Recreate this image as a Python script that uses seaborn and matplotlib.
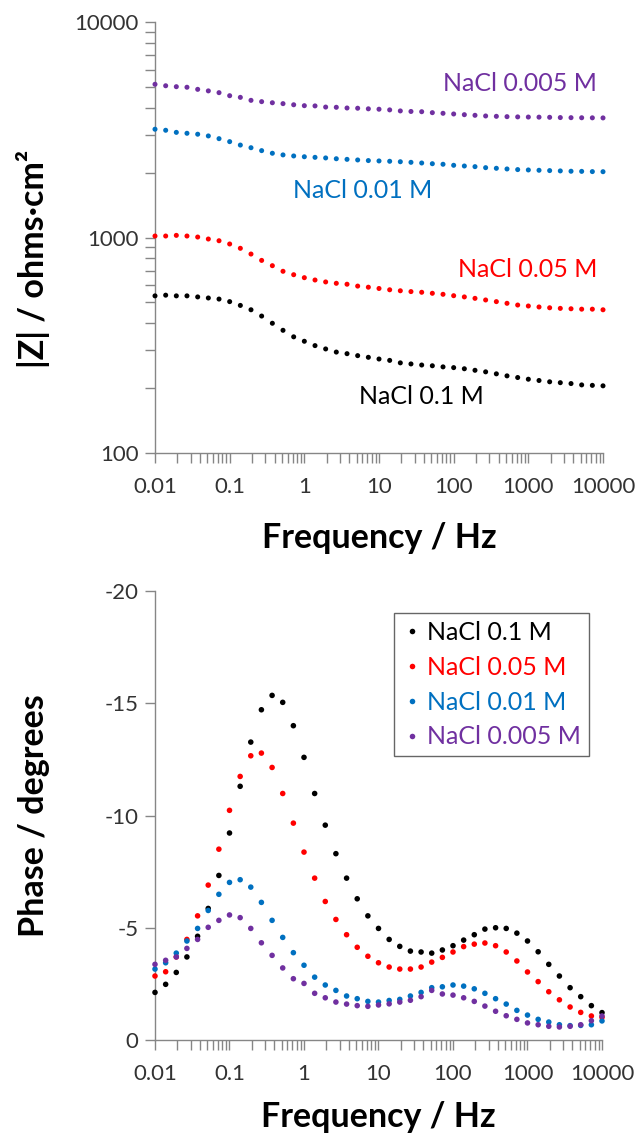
import numpy as np
import pandas as pd
import matplotlib
matplotlib.use("Agg")
import matplotlib.pyplot as plt
import seaborn as sns
from matplotlib.ticker import FixedLocator, FuncFormatter, NullFormatter, LogLocator

# ---------------- data ----------------
series = ["NaCl 0.1 M", "NaCl 0.05 M", "NaCl 0.01 M", "NaCl 0.005 M"]
colors = ["#000000", "#FF0000", "#0070C0", "#7030A0"]

freq = [0.01, 0.0139, 0.0193, 0.0268, 0.0373, 0.0518, 0.072,
        0.1, 0.139, 0.193, 0.268, 0.373, 0.518, 0.72,
        1, 1.39, 1.93, 2.68, 3.73, 5.18, 7.2,
        10, 13.9, 19.3, 26.8, 37.3, 51.8, 72,
        100, 139, 193, 268, 373, 518, 720,
        1000, 1390, 1930, 2680, 3730, 5180, 7200,
        10000]

z_01 = [536, 540, 536, 536, 530, 524, 518, 504, 484, 462, 432, 400, 371, 346, 330, 315, 304, 294, 289, 283, 278,
        273, 269, 262, 259, 256, 254, 251, 249, 246, 242, 238, 233, 228, 224, 220, 217, 214, 212, 210, 207, 206, 205]
z_005 = [1016, 1016, 1023, 1016, 1005, 984, 966, 933, 891, 838, 783, 740, 697, 672, 651, 635, 622, 613, 607, 595, 588,
         580, 572, 566, 561, 557, 551, 545, 537, 530, 522, 513, 504, 495, 486, 481, 476, 472, 469, 467, 465, 465, 462]
z_001 = [3180, 3145, 3075, 3045, 3015, 2960, 2875, 2785, 2685, 2610, 2530, 2460, 2417, 2390, 2370, 2355, 2340, 2320, 2305, 2290, 2275,
         2266, 2258, 2247, 2233, 2217, 2200, 2187, 2163, 2147, 2132, 2109, 2095, 2080, 2066, 2058, 2051, 2044, 2037, 2030, 2027, 2022, 2020]
z_0005 = [5140, 5060, 5010, 4980, 4870, 4790, 4700, 4550, 4470, 4330, 4270, 4220, 4180, 4130, 4090, 4080, 4030, 4020, 3990, 3980, 3955,
          3938, 3910, 3867, 3845, 3835, 3796, 3770, 3743, 3715, 3690, 3664, 3650, 3637, 3628, 3622, 3618, 3612, 3602, 3598, 3595, 3592, 3589]

ph_01 = [-2.12, -2.48, -3.01, -3.70, -4.62, -5.86, -7.33, -9.22, -11.30, -13.27, -14.71, -15.35, -15.04, -14.00, -12.59, -10.98,
         -9.57, -8.30, -7.21, -6.29, -5.53, -4.97, -4.48, -4.17, -3.96, -3.92, -3.87, -4.01, -4.20, -4.45, -4.69, -4.94, -5.00,
         -4.97, -4.76, -4.41, -3.93, -3.37, -2.85, -2.33, -1.93, -1.53, -1.22]
ph_005 = [-2.85, -3.04, -3.70, -4.48, -5.53, -6.90, -8.50, -10.23, -11.74, -12.66, -12.78, -12.14, -10.98, -9.66, -8.37, -7.21,
          -6.17, -5.37, -4.69, -4.13, -3.73, -3.44, -3.25, -3.16, -3.16, -3.25, -3.47, -3.68, -3.92, -4.16, -4.27, -4.32, -4.20,
          -3.92, -3.52, -3.03, -2.60, -2.15, -1.79, -1.47, -1.23, -1.07, -1.01]
ph_001 = [-3.16, -3.44, -3.87, -4.41, -4.97, -5.77, -6.49, -7.02, -7.14, -6.81, -6.13, -5.33, -4.57, -3.89, -3.33, -2.80,
          -2.45, -2.21, -1.96, -1.84, -1.72, -1.69, -1.76, -1.81, -1.96, -2.12, -2.33, -2.37, -2.45, -2.40, -2.28, -2.08, -1.84,
          -1.60, -1.32, -1.11, -0.92, -0.80, -0.68, -0.64, -0.65, -0.68, -0.85]
ph_0005 = [-3.37, -3.55, -3.70, -4.08, -4.48, -5.02, -5.33, -5.57, -5.45, -4.97, -4.33, -3.77, -3.21, -2.73, -2.52, -2.08,
           -1.88, -1.69, -1.60, -1.53, -1.50, -1.56, -1.61, -1.69, -1.77, -1.93, -2.21, -2.05, -2.00, -1.88, -1.72, -1.51, -1.28,
           -1.08, -0.92, -0.76, -0.68, -0.61, -0.58, -0.61, -0.68, -0.86, -1.07]

x_ticks = [0.01, 0.1, 1, 10, 100, 1000, 10000]
z_ticks = [100, 1000, 10000]
ph_ticks = [0, -5, -10, -15, -20]

# ---------------- frames ----------------
mag_frames, ph_frames = [], []
for name, zs, ps in zip(series, [z_01, z_005, z_001, z_0005], [ph_01, ph_005, ph_001, ph_0005]):
    mag_frames.append(pd.DataFrame({"freq": freq, "val": zs, "series": name}))
    ph_frames.append(pd.DataFrame({"freq": freq, "val": ps, "series": name}))
df_mag = pd.concat(mag_frames, ignore_index=True)
df_ph = pd.concat(ph_frames, ignore_index=True)
palette = dict(zip(series, colors))

# ---------------- figure ----------------
sns.set_theme(style="ticks")
plt.rcParams["font.family"] = ["Lato", "DejaVu Sans"]

W, H = 641, 1142
fig = plt.figure(figsize=(W / 100, H / 100), dpi=100)


def rect(l, t, r, b):
    return [l / W, 1 - b / H, (r - l) / W, (b - t) / H]


ax1 = fig.add_axes(rect(155, 22, 603, 453))
ax2 = fig.add_axes(rect(155, 591, 602, 1040))

sns.scatterplot(data=df_mag, x="freq", y="val", hue="series", hue_order=series, palette=palette,
                s=13, linewidth=0, ax=ax1, legend=False, clip_on=False, zorder=3)
sns.scatterplot(data=df_ph, x="freq", y="val", hue="series", hue_order=series, palette=palette,
                s=16, linewidth=0, ax=ax2, legend=True, clip_on=False, zorder=3)

axis_grey = "#868686"
lab_col = "#333333"
fmt = FuncFormatter(lambda v, p: f"{v:g}")

for ax in (ax1, ax2):
    ax.set_xscale("log")
    ax.set_xlim(0.01, 10000)
    ax.xaxis.set_major_locator(FixedLocator(x_ticks))
    ax.xaxis.set_major_formatter(fmt)
    ax.xaxis.set_minor_locator(LogLocator(base=10, subs=range(2, 10), numticks=50))
    ax.xaxis.set_minor_formatter(NullFormatter())
    for s in ("top", "right"):
        ax.spines[s].set_visible(False)
    for s in ("left", "bottom"):
        ax.spines[s].set_color(axis_grey)
        ax.spines[s].set_linewidth(1)
    ax.tick_params(axis="both", which="both", direction="out", length=7, width=1,
                   color=axis_grey, labelsize=16, labelcolor=lab_col)
    ax.tick_params(axis="x", which="both", pad=10)
    ax.tick_params(axis="y", which="both", pad=5)
    ax.set_xlabel("Frequency / Hz", fontsize=24.5, fontweight="bold", color="black")
    ax.xaxis.set_label_coords(0.5, -0.16 if ax is ax1 else -0.135)

ax1.set_yscale("log")
ax1.set_ylim(100, 10000)
ax1.yaxis.set_major_locator(FixedLocator(z_ticks))
ax1.yaxis.set_major_formatter(fmt)
ax1.yaxis.set_minor_locator(LogLocator(base=10, subs=range(2, 10), numticks=50))
ax1.yaxis.set_minor_formatter(NullFormatter())
ax1.set_ylabel("|Z| / ohms·cm²", fontsize=24.5, fontweight="bold", color="black")
ax1.yaxis.set_label_coords(-0.235, 0.45)

ax2.set_ylim(0, -20)
ax2.yaxis.set_major_locator(FixedLocator(ph_ticks))
ax2.yaxis.set_major_formatter(fmt)
ax2.set_ylabel("Phase / degrees", fontsize=24.5, fontweight="bold", color="black")
ax2.yaxis.set_label_coords(-0.235, 0.5)

# curve labels in the magnitude plot
ax1.text(769, 5210, "NaCl 0.005 M", color=colors[3], fontsize=18, ha="center", va="center")
ax1.text(6.1, 1660, "NaCl 0.01 M", color=colors[2], fontsize=18, ha="center", va="center")
ax1.text(985, 714, "NaCl 0.05 M", color=colors[1], fontsize=18, ha="center", va="center")
ax1.text(36.4, 182, "NaCl 0.1 M", color=colors[0], fontsize=18, ha="center", va="center")

# legend in the phase plot
handles, labels = ax2.get_legend_handles_labels()
leg = ax2.legend(handles, labels, loc="upper left", bbox_to_anchor=((394 - 155) / 447, (1040 - 613) / 449),
                 borderaxespad=0, frameon=True, fancybox=False, fontsize=18, markerscale=1.0,
                 handletextpad=0.2, handlelength=0.8, labelspacing=0.47, borderpad=0.32)
leg.get_frame().set_edgecolor("#404040")
leg.get_frame().set_linewidth(1)
for t, c in zip(leg.get_texts(), colors):
    t.set_color(c)

fig.savefig("out.png", dpi=100)
